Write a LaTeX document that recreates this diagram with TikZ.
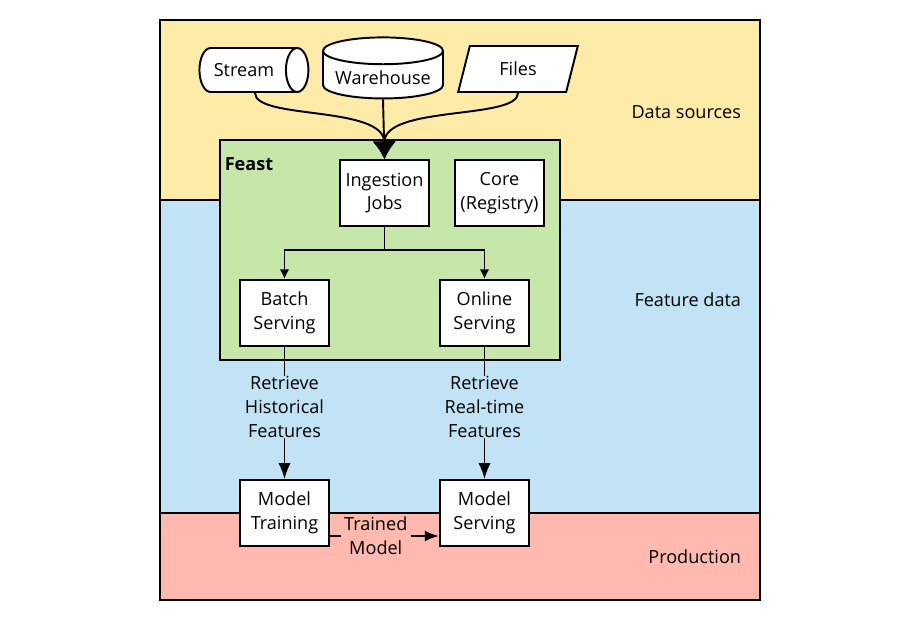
\documentclass[tikz,border=0pt]{standalone}
\usepackage{fontspec}
\setmainfont{Open Sans}
\usetikzlibrary{arrows.meta,shapes.geometric}

\definecolor{srcyellow}{RGB}{255,235,168}
\definecolor{featblue}{RGB}{194,227,245}
\definecolor{prodpink}{RGB}{255,185,174}
\definecolor{feastgreen}{RGB}{199,231,170}

\begin{document}
\begin{tikzpicture}[x=0.02cm,y=-0.02cm,line width=1.1pt,
    font=\fontsize{10.3}{13.6}\selectfont,
    big head/.style={-{Latex[length=10pt,width=13pt]}},
    mid head/.style={-{Latex[length=9pt,width=7pt]}},
    small head/.style={-{Latex[length=5.5pt,width=5.5pt]}},
    box/.style={draw,fill=white,align=center,minimum width=1.78cm,
      minimum height=1.32cm,inner sep=2pt},
    band label/.style={anchor=east,inner sep=0pt},
    edge label/.style={align=center,inner xsep=2pt,inner ysep=0pt}]
    \useasboundingbox (0,0) rectangle (900,620);
    % bands
    \draw[fill=srcyellow] (160,20) rectangle (760,200);
    \draw[fill=featblue] (160,200) rectangle (760,513);
    \draw[fill=prodpink] (160,513) rectangle (760,600);
    \node[band label] (src_lbl) at (742,112) {Data sources};
    \node[band label] (feat_lbl) at (742,300) {Feature data};
    \node[band label] (prod_lbl) at (742,557) {Production};
    % feast
    \draw[fill=feastgreen] (220,140) rectangle (560,360);
    \node[inner sep=0pt] (feast) at (249,164) {\bfseries Feast};
    \node[box] (ingest) at (384.5,193) {Ingestion\\Jobs};
    \node[box] (core) at (499.5,193) {Core\\(Registry)};
    \node[box] (batch) at (284.5,313) {Batch\\Serving};
    \node[box] (online) at (484.5,313) {Online\\Serving};
    \node[box] (train) at (284.5,513) {Model\\Training};
    \node[box] (serve) at (484.5,513) {Model\\Serving};
    % sources
    \node[draw,fill=white,cylinder,aspect=0.9,minimum width=0.88cm,
      minimum height=2.18cm] (stream) at (244,70) {Stream};
    \node[draw,fill=white,cylinder,shape border rotate=90,aspect=0.25,
      minimum width=2.4cm,minimum height=1.16cm] (warehouse) at (383,78) {Warehouse};
    \node[draw,fill=white,trapezium,trapezium left angle=77,
      trapezium right angle=103,trapezium stretches=true,
      minimum width=2.4cm,minimum height=0.92cm] (files) at (518,69) {Files};
    \draw[big head] ([xshift=0.22cm]stream.south) .. controls (255,120) and (384,105) .. (ingest.north);
    \draw[big head] (warehouse.south) -- (ingest.north);
    \draw[big head] (files.south) .. controls (518,120) and (384,105) .. (ingest.north);
    % serving
    \coordinate (split) at (384.5,250);
    \draw (ingest.south) -- (split);
    \draw[small head] (split) -| (batch.north);
    \draw[small head] (split) -| (online.north);
    \draw[mid head] (batch.south) -- node[edge label,fill=featblue,pos=0.455]
      {Retrieve\\Historical\\Features} (train.north);
    \draw[mid head] (online.south) -- node[edge label,fill=featblue,pos=0.455]
      {Retrieve\\Real-time\\Features} (serve.north);
    \draw[-{Latex[length=8pt,width=6pt]}] ([yshift=-0.46cm]train.east) --
      node[edge label,fill=prodpink,pos=0.42] {Trained\\Model} ([yshift=-0.46cm]serve.west);
\end{tikzpicture}
\end{document}
